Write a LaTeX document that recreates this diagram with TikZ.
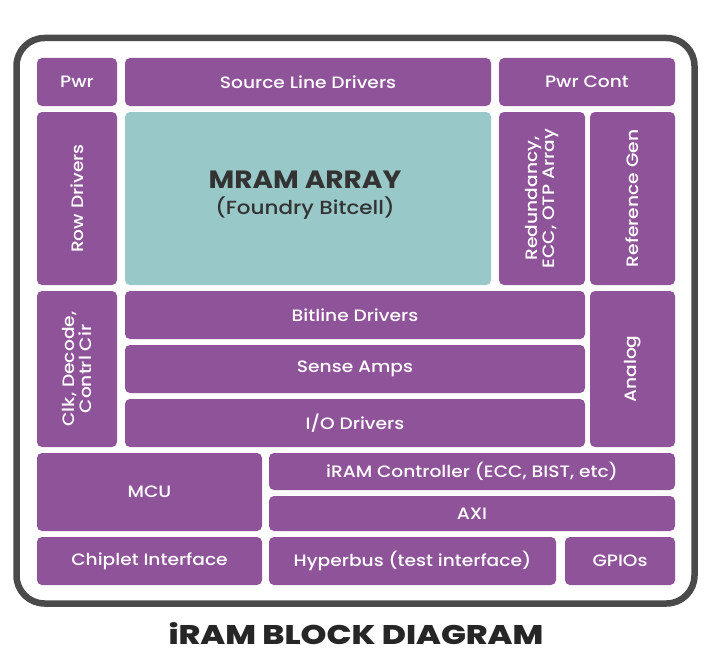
\documentclass[tikz,border=0pt]{standalone}
\usepackage{fontspec}
\setmainfont{Poppins}
\newfontfamily\lblfont{Poppins Medium}[FakeStretch=1.13]
\newfontfamily\titlefont{Poppins ExtraBold}[FakeStretch=1.22]
\newfontfamily\mramfont{Poppins Bold}[FakeStretch=1.12]
\definecolor{purp}{HTML}{8E5398}
\definecolor{teal}{HTML}{99C8C9}
\definecolor{frame}{HTML}{4A4A4A}
\definecolor{dark}{HTML}{333333}
\tikzset{
  blk/.style={fill=purp, rounded corners=5pt, text=white, inner sep=0pt, align=center, font=\lblfont\fontsize{16.5}{18}\selectfont},
  vlbl/.style={rotate=90, text=white, align=center, inner sep=0pt, font=\lblfont\fontsize{16.5}{18}\selectfont},
  arr/.style={fill=teal, rounded corners=5pt, text=dark, inner sep=0pt, align=center},
}
\begin{document}
\begin{tikzpicture}[x=1pt,y=-1pt]
\useasboundingbox (0,0) rectangle (709,669);
\fill[white] (0,0) rectangle (709,669);
\node[draw=frame, line width=6.5pt, rounded corners=28pt, minimum width=678pt, minimum height=565.5pt, inner sep=0pt] (frm) at (355.5,320.75) {};
\node[blk, minimum width=80pt, minimum height=48pt] (pwr) at (77,82) {Pwr};
\node[blk, minimum width=366pt, minimum height=48pt] (sld) at (308,82) {Source Line Drivers};
\node[blk, minimum width=176pt, minimum height=48pt] (pwrc) at (587,82) {Pwr Cont};
\node[blk, minimum width=80pt, minimum height=173pt] (row) at (77,198.5) {};
\node[vlbl] (rowt) at (row.center) {Row Drivers};
\node[arr, minimum width=366pt, minimum height=173pt] (mram) at (308,198.5) {};
\node[text=dark, inner sep=0pt, font=\mramfont\fontsize{25}{28}\selectfont] (mramt) at (305,180) {MRAM ARRAY};
\node[text=dark, inner sep=0pt, font=\lblfont\fontsize{19}{22}\selectfont] (mramt2) at (305,208) {(Foundry Bitcell)};
\node[blk, minimum width=86pt, minimum height=173pt] (red) at (542,198.5) {};
\node[vlbl, font=\lblfont\fontsize{16.5}{17.5}\selectfont] (redt) at (red.center) {Redundancy,\\ECC, OTP Array};
\node[blk, minimum width=85pt, minimum height=173pt] (ref) at (632.5,198.5) {};
\node[vlbl] (reft) at (ref.center) {Reference Gen};
\node[blk, minimum width=80pt, minimum height=156pt] (clk) at (77,369) {};
\node[vlbl, font=\lblfont\fontsize{16.5}{17.5}\selectfont] (clkt) at (clk.center) {Clk, Decode,\\Contrl Cir};
\node[blk, minimum width=460pt, minimum height=48pt] (bit) at (355,315) {Bitline Drivers};
\node[blk, minimum width=460pt, minimum height=48pt] (sense) at (355,369) {Sense Amps};
\node[blk, minimum width=460pt, minimum height=48pt] (io) at (355,423) {I/O Drivers};
\node[blk, minimum width=85pt, minimum height=156pt] (ana) at (632.5,369) {};
\node[vlbl] (anat) at (ana.center) {Analog};
\node[blk, minimum width=225pt, minimum height=78pt] (mcu) at (149.5,492) {MCU};
\node[blk, minimum width=406pt, minimum height=37pt] (ctrl) at (472,471.5) {iRAM Controller (ECC, BIST, etc)};
\node[blk, minimum width=406pt, minimum height=35pt] (axi) at (472,513.5) {AXI};
\node[blk, minimum width=225pt, minimum height=48pt] (chip) at (149.5,561) {Chiplet Interface};
\node[blk, minimum width=287pt, minimum height=48pt] (hyp) at (412.5,561) {Hyperbus (test interface)};
\node[blk, minimum width=110pt, minimum height=48pt] (gpio) at (620,561) {GPIOs};
\node[text=black!85, font=\titlefont\fontsize{27}{30}\selectfont] (title) at (356,634) {iRAM BLOCK DIAGRAM};
\end{tikzpicture}
\end{document}
